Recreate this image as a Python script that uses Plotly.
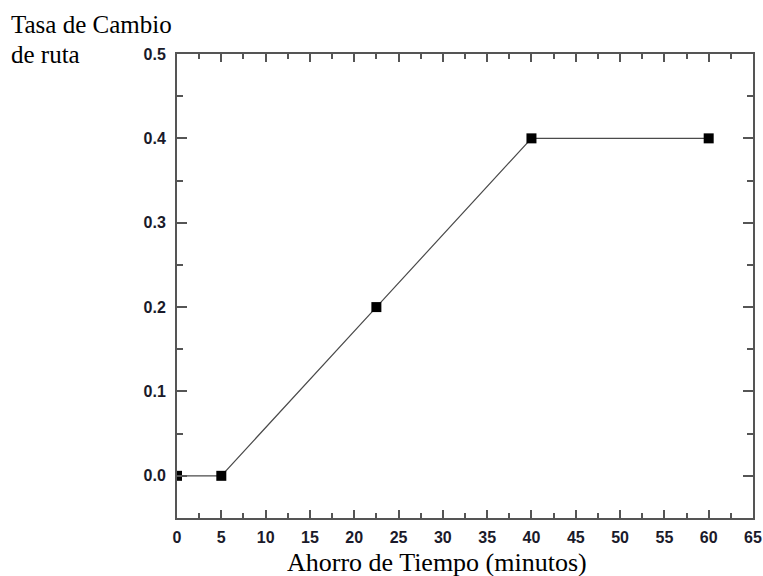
import plotly.graph_objects as go

ahorro_min = [0, 5, 22.5, 40, 60]
tasa_cambio = [0.0, 0.0, 0.2, 0.4, 0.4]

x_ticks = list(range(0, 70, 5))
y_ticks = [0.0, 0.1, 0.2, 0.3, 0.4, 0.5]

fig = go.Figure()
fig.add_trace(go.Scatter(
    x=ahorro_min, y=tasa_cambio, mode="lines+markers",
    line=dict(color="#4a4a4a", width=1.2),
    marker=dict(symbol="square", size=10, color="black"),
    showlegend=False,
))

axis_common = dict(
    showgrid=False, zeroline=False, showline=True, linecolor="#555555", linewidth=2,
    mirror="allticks", ticks="inside", tickcolor="#555555", tickwidth=1.5,
    tickfont=dict(family="Liberation Sans", size=16, color="#1a1a2a", weight="bold"),
    automargin=False,
)

fig.update_xaxes(
    range=[0, 65], tickvals=x_ticks, ticktext=[str(v) for v in x_ticks], ticklen=8,
    ticklabelstandoff=4,
    minor=dict(dtick=2.5, tick0=0, ticks="inside", ticklen=5, tickcolor="#555555", tickwidth=1.5),
    **axis_common,
)
fig.update_yaxes(
    range=[-0.05, 0.5], tickvals=y_ticks, ticktext=[f"{v:.1f}" for v in y_ticks], ticklen=10,
    ticklabelstandoff=6,
    minor=dict(dtick=0.05, tick0=0, ticks="inside", ticklen=6, tickcolor="#555555", tickwidth=1.5),
    **axis_common,
)

fig.add_annotation(
    text="Ahorro de Tiempo (minutos)", xref="paper", yref="paper",
    x=0.451, y=-0.095, xanchor="center", yanchor="middle", showarrow=False,
    font=dict(family="Liberation Serif", size=26, color="black"),
)
fig.add_annotation(
    text="Tasa de Cambio", xref="paper", yref="paper",
    x=-0.292, y=1.063, xanchor="left", yanchor="middle", align="left", showarrow=False,
    font=dict(family="Liberation Serif", size=25, color="black"),
)
fig.add_annotation(
    text="de ruta", xref="paper", yref="paper",
    x=-0.292, y=0.998, xanchor="left", yanchor="middle", align="left", showarrow=False,
    font=dict(family="Liberation Serif", size=25, color="black"),
)

fig.update_layout(
    width=763, height=576,
    margin=dict(l=177, r=10, t=54, b=58),
    plot_bgcolor="white", paper_bgcolor="white",
)

fig.write_html("out.html", config={"displayModeBar": False},
               post_script="document.body.style.margin='0';")
